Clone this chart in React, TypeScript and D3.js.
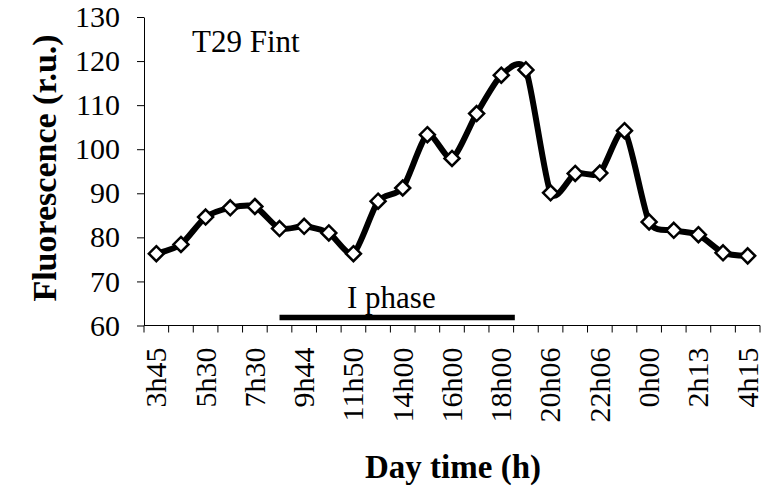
import { useEffect, useRef } from "react";
import * as d3 from "d3";

// fluorescence readings, one per sampling time
const fluorescence = [
    76.3, 78.4, 84.6, 86.7, 87.0, 82.0, 82.5, 81.0, 76.3, 88.2, 91.2, 103.3, 97.9,
    108.1, 116.8, 118.0, 90.1, 94.5, 94.6, 104.2, 83.5, 81.6, 80.6, 76.5, 75.8,
];

// only every other sampling time is labelled on the axis
const timeLabels = [
    "3h45", "5h30", "7h30", "9h44", "11h50", "14h00", "16h00",
    "18h00", "20h06", "22h06", "0h00", "2h13", "4h15",
];

const yTicks = [60, 70, 80, 90, 100, 110, 120, 130];

// I phase span, in sample index units
const phaseSpan = [5, 14.55];

const FONT = "Liberation Serif, Times New Roman, Times, DejaVu Serif, serif";

export default function App() {
    const svgRef = useRef<SVGSVGElement | null>(null);
    const width = 770;
    const height = 492;

    useEffect(() => {
        const margin = { top: 17, left: 144, right: 10, bottom: 167 };
        const svg = d3.select(svgRef.current!);
        svg.selectAll("*").remove();

        const idx = d3.range(fluorescence.length);
        const x = d3
            .scaleBand<number>()
            .domain(idx)
            .range([margin.left, 760])
            .paddingInner(0)
            .paddingOuter(0);
        const bw = x.bandwidth();
        const cx = (i: number) => x(i)! + bw / 2;
        const xi = d3
            .scaleLinear()
            .domain([0, fluorescence.length - 1])
            .range([cx(0), cx(fluorescence.length - 1)]);

        const y = d3.scaleLinear().domain([60, 130]).range([height - margin.bottom + 0.5, margin.top]);
        const yBase = y(60);

        // y axis
        const yAxis = d3
            .axisLeft(y)
            .tickValues(yTicks)
            .tickSize(7)
            .tickPadding(17)
            .tickSizeOuter(0);
        const gy = svg.append("g").attr("transform", `translate(${margin.left},0)`).call(yAxis as any);
        gy.attr("font-family", null).attr("font-size", null);
        gy.select(".domain").attr("stroke", "#000");
        gy.selectAll("line").attr("stroke", "#000");
        gy.selectAll("text").style("font-size", "30px").attr("fill", "#000");

        // x axis: line + ticks at category boundaries
        const gx = svg.append("g");
        gx.append("line")
            .attr("x1", margin.left)
            .attr("x2", x.range()[1])
            .attr("y1", yBase)
            .attr("y2", yBase)
            .attr("stroke", "#000");
        const bounds = [...idx.map((i) => x(i)!), x.range()[1]];
        gx.selectAll("line.tick")
            .data(bounds)
            .join("line")
            .attr("class", "tick")
            .attr("x1", (d) => d)
            .attr("x2", (d) => d)
            .attr("y1", yBase)
            .attr("y2", yBase + 7)
            .attr("stroke", "#000");
        gx.selectAll("text.lbl")
            .data(timeLabels)
            .join("text")
            .attr("class", "lbl")
            .attr("transform", (_d, k) => `translate(${cx(k * 2)},${yBase + 22}) rotate(-90)`)
            .attr("text-anchor", "end")
            .attr("dy", "0.33em")
            .style("font-size", "30px")
            .text((d) => d);

        // I phase bar
        svg.append("line")
            .attr("x1", xi(phaseSpan[0]))
            .attr("x2", xi(phaseSpan[1]))
            .attr("y1", 317.5)
            .attr("y2", 317.5)
            .attr("stroke", "#000")
            .attr("stroke-width", 5.5);
        svg.append("text")
            .attr("x", 347)
            .attr("y", 308)
            .style("font-size", "31px")
            .text("I phase");

        svg.append("text")
            .attr("x", 192)
            .attr("y", 52)
            .style("font-size", "31px")
            .text("T29 Fint");

        // series
        const line = d3
            .line<number>()
            .x((_d, i) => cx(i))
            .y((d) => y(d))
            .curve(d3.curveCardinal.tension(0.3));
        svg.append("path")
            .datum(fluorescence)
            .attr("fill", "none")
            .attr("stroke", "#000")
            .attr("stroke-width", 6)
            .attr("stroke-linejoin", "round")
            .attr("d", line as any);

        const s = 7.5;
        svg.selectAll("path.pt")
            .data(fluorescence)
            .join("path")
            .attr("class", "pt")
            .attr("d", (d, i) => {
                const px = cx(i);
                const py = y(d);
                return `M${px},${py - s}L${px + s},${py}L${px},${py + s}L${px - s},${py}Z`;
            })
            .attr("fill", "#fff")
            .attr("stroke", "#000")
            .attr("stroke-width", 2.5);

        // axis titles
        svg.append("text")
            .attr("transform", `translate(56,168) rotate(-90)`)
            .attr("text-anchor", "middle")
            .style("font-weight", "bold")
            .style("font-size", "34px")
            .text("Fluorescence (r.u.)");
        svg.append("text")
            .attr("x", 453)
            .attr("y", 478)
            .attr("text-anchor", "middle")
            .style("font-weight", "bold")
            .style("font-size", "33px")
            .text("Day time (h)");
    }, []);

    return (
        <svg
            ref={svgRef}
            width={width}
            height={height}
            style={{ position: "absolute", left: 0, top: 0, background: "#fff", fontFamily: FONT }}
        />
    );
}
